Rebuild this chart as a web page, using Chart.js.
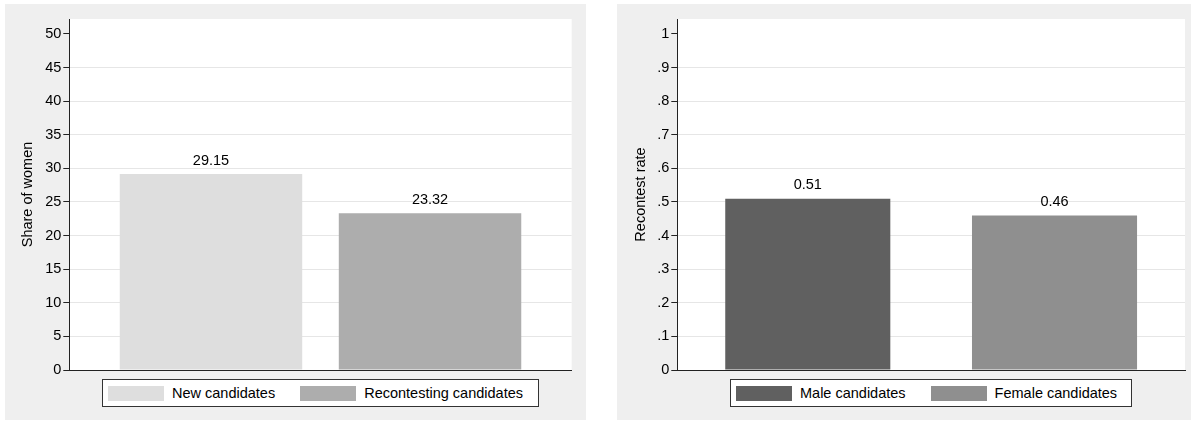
<!DOCTYPE html>
<html>
<head>
<meta charset="utf-8">
<script src="https://cdn.jsdelivr.net/npm/chart.js@4"></script>
<style>
  html, body { margin: 0; padding: 0; background: #ffffff; }
  body { width: 1196px; height: 426px; position: relative; overflow: hidden;
         font-family: 'Liberation Sans', Arial, Helvetica, sans-serif; }
  .panel { position: absolute; background: #efefef; }
  #pL { left: 5px; top: 4px; width: 581px; height: 416px; }
  #pR { left: 617px; top: 4px; width: 574px; height: 416px; }
  .panel canvas { position: absolute; left: 0; top: 0; }
  .legend { position: absolute; top: 379px; height: 28px; box-sizing: border-box;
            border: 1px solid #333; background: #fff; display: flex; align-items: center;
            padding-left: 5px; font-size: 14.5px; color: #000; white-space: nowrap; }
  .legend .sw { width: 56px; height: 15px; margin-right: 8px; flex: none; }
  .legend .it { display: flex; align-items: center; margin-right: 25px; }
  .legend .it:last-child { margin-right: 0; }
  #legL { left: 102px; width: 437px; }
  #legR { left: 730px; width: 402px; }
</style>
</head>
<body>
<div class="panel" id="pL"><canvas id="cL" width="581" height="416"></canvas></div>
<div class="panel" id="pR"><canvas id="cR" width="574" height="416"></canvas></div>
<div class="legend" id="legL"></div>
<div class="legend" id="legR"></div>
<script>
// ---- data ----
const leftCategories = ['New candidates', 'Recontesting candidates'];
const leftValues = [29.15, 23.32];
const leftColors = ['#dedede', '#adadad'];
const leftTickLabels = ['0', '5', '10', '15', '20', '25', '30', '35', '40', '45', '50'];
const leftTitle = 'Share of women';

const rightCategories = ['Male candidates', 'Female candidates'];
const rightValues = [0.51, 0.46];
const rightColors = ['#606060', '#8f8f8f'];
const rightTickLabels = ['0', '.1', '.2', '.3', '.4', '.5', '.6', '.7', '.8', '.9', '1'];
const rightTitle = 'Recontest rate';

Chart.defaults.font.family = "'Liberation Sans', Arial, Helvetica, sans-serif";
Chart.defaults.font.size = 14.5;
Chart.defaults.color = '#000';

const plotBg = {
  id: 'plotBg',
  beforeDraw(chart) {
    const a = chart.chartArea, ctx = chart.ctx;
    ctx.save(); ctx.fillStyle = '#ffffff';
    ctx.fillRect(a.left, a.top, a.right - a.left, a.bottom - a.top);
    ctx.restore();
  }
};
const valueLabels = {
  id: 'valueLabels',
  afterDatasetsDraw(chart) {
    const ctx = chart.ctx;
    ctx.save();
    ctx.font = "14.5px 'Liberation Sans', Arial, sans-serif";
    ctx.fillStyle = '#000'; ctx.textAlign = 'center'; ctx.textBaseline = 'bottom';
    chart.data.datasets.forEach((ds, i) => {
      const el = chart.getDatasetMeta(i).data[0];
      ctx.fillText(ds.data[0].toFixed(2), el.x, el.y - 6);
    });
    ctx.restore();
  }
};

function makeChart(id, cats, vals, cols, tickLabels, title, step, ymax, axisW, titlePad, padRight, catPct, barPct) {
  const datasets = cats.map((c, i) => ({
    label: c, data: [vals[i]], backgroundColor: cols[i], borderWidth: 0,
    categoryPercentage: catPct, barPercentage: barPct
  }));
  return new Chart(document.getElementById(id), {
    type: 'bar',
    data: { labels: [''], datasets },
    options: {
      responsive: false, animation: false, devicePixelRatio: 1,
      layout: { padding: { left: 0, right: padRight, top: 15, bottom: 50 } },
      plugins: { legend: { display: false }, tooltip: { enabled: false } },
      scales: {
        x: {
          grid: { display: false, drawTicks: false },
          ticks: { display: false },
          border: { display: true, color: '#222', width: 1 }
        },
        y: {
          min: 0, max: ymax,
          ticks: {
            stepSize: step, includeBounds: false, padding: 2, color: '#000',
            font: { size: 14.5 },
            callback: (v, idx) => tickLabels[idx]
          },
          grid: {
            color: (c) => (c.tick && (c.index === 0 || c.index === tickLabels.length - 1)) ? 'rgba(0,0,0,0)' : '#e6e6e6',
            tickColor: '#222', tickLength: 6, lineWidth: 1
          },
          border: { display: true, color: '#222', width: 1 },
          title: { display: true, text: title, color: '#000', font: { size: 14.5 },
                   padding: { top: titlePad, bottom: 0 } },
          afterFit: (s) => { s.width = axisW; }
        }
      }
    },
    plugins: [plotBg, valueLabels]
  });
}

makeChart('cL', leftCategories, leftValues, leftColors, leftTickLabels, leftTitle,
          5, 52.23, 64.3, 13.8, 14.3, 0.872, 0.833);
makeChart('cR', rightCategories, rightValues, rightColors, rightTickLabels, rightTitle,
          0.1, 1.0446, 60.3, 15.3, 6, 0.972, 0.669);

function buildLegend(elId, cats, cols) {
  const el = document.getElementById(elId);
  cats.forEach((c, i) => {
    const it = document.createElement('div'); it.className = 'it';
    const sw = document.createElement('div'); sw.className = 'sw'; sw.style.background = cols[i];
    const tx = document.createElement('span'); tx.textContent = c;
    it.appendChild(sw); it.appendChild(tx); el.appendChild(it);
  });
}
buildLegend('legL', leftCategories, leftColors);
buildLegend('legR', rightCategories, rightColors);
</script>
</body>
</html>
